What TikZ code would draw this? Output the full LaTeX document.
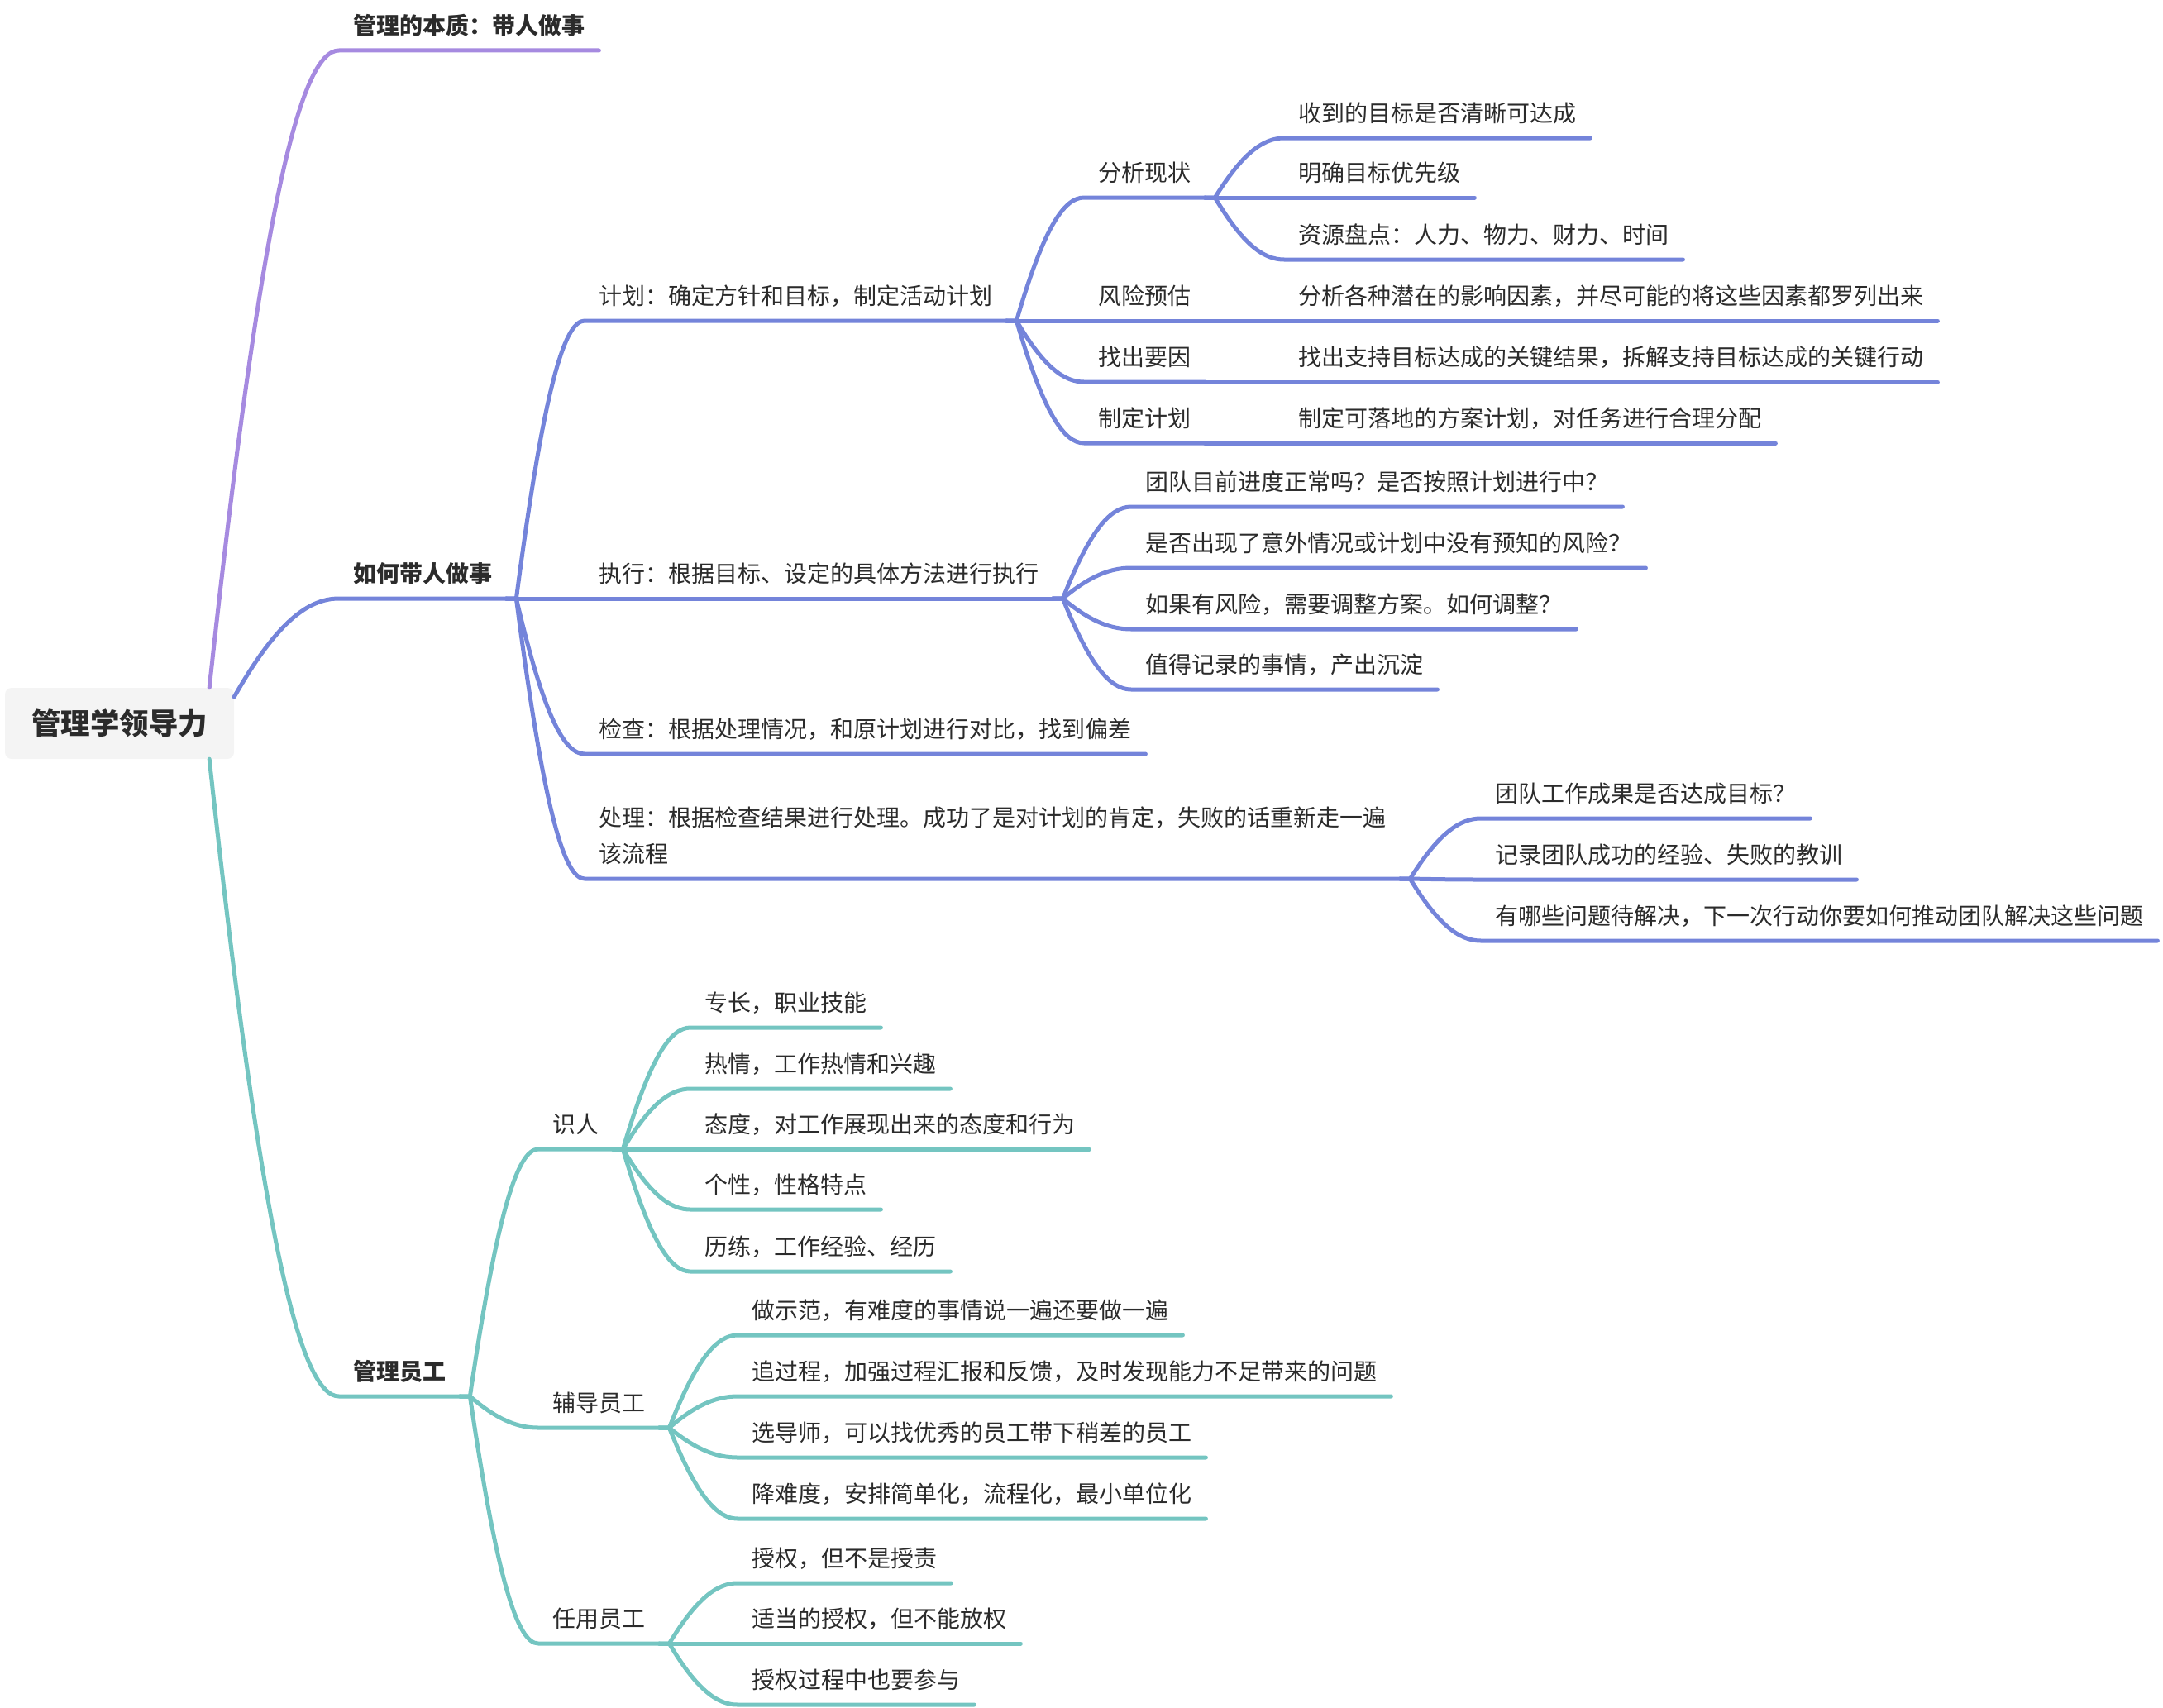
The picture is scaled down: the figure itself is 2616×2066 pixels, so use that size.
\documentclass[tikz,border=0pt]{standalone}
\usepackage{fontspec}
\setmainfont{Noto Sans CJK SC}
\usetikzlibrary{calc}
\definecolor{purplebranch}{HTML}{A68AE0}
\definecolor{bluebranch}{HTML}{7484DA}
\definecolor{tealbranch}{HTML}{74C5C1}
\definecolor{rootfill}{HTML}{F4F4F4}
\definecolor{topictext}{HTML}{2B2B2B}
\tikzstyle{central} = [rectangle, rounded corners=8pt, minimum width=277pt, minimum height=86pt, fill=rootfill, text=topictext, font=\fontsize{35.5}{40}\selectfont\bfseries]
\tikzstyle{topic} = [anchor=south west, inner xsep=17pt, inner ysep=0pt, text depth=19pt, text=topictext, font=\fontsize{28}{44.5}\selectfont]
\tikzstyle{maintopic} = [topic, font=\fontsize{28}{44.5}\selectfont\bfseries]
\tikzstyle{purpleline} = [line width=5pt, line cap=round, line join=round, draw=purplebranch]
\tikzstyle{blueline} = [line width=5pt, line cap=round, line join=round, draw=bluebranch]
\tikzstyle{tealline} = [line width=5pt, line cap=round, line join=round, draw=tealbranch]
\tikzset{branch/.style={to path={let \p1=(\tikztostart), \p2=(\tikztotarget) in
  -- ({\x1+#1},{\y1})
  .. controls ({\x1+#1+0.4*(\x2-\x1-#1)},{\y1+0.75*(\y2-\y1)}) and ({\x2-0.3*(\x2-\x1-#1)},{\y2}) .. (\tikztotarget)}},
  branch/.default=12pt}

\begin{document}
\begin{tikzpicture}[x=1pt, y=-1pt]
\useasboundingbox (0,0) rectangle (2616,2066);

\node (root) [central] at (144.5,875) {管理学领导力};
\node (essence) [maintopic] at (410,61) {管理的本质：带人做事};
\node (lead) [maintopic] at (410,724) {如何带人做事};
\node (staff) [maintopic] at (410,1689) {管理员工};

\node (plan) [topic] at (707,388) {计划：确定方针和目标，制定活动计划};
\node (do) [topic] at (707,724) {执行：根据目标、设定的具体方法进行执行};
\node (check) [topic] at (707,912) {检查：根据处理情况，和原计划进行对比，找到偏差};
\node (act) [topic, align=left] at (707,1063) {处理：根据检查结果进行处理。成功了是对计划的肯定，失败的话重新走一遍\\该流程};

\node (analyse) [topic] at (1311,239) {分析现状};
\node (risk) [topic] at (1311,388) {风险预估};
\node (keys) [topic] at (1311,462) {找出要因};
\node (schedule) [topic] at (1311,536) {制定计划};

\node (goal) [topic] at (1553,167) {收到的目标是否清晰可达成};
\node (priority) [topic] at (1553,239) {明确目标优先级};
\node (resource) [topic] at (1553,314) {资源盘点：人力、物力、财力、时间};
\node (factors) [topic] at (1553,388) {分析各种潜在的影响因素，并尽可能的将这些因素都罗列出来};
\node (results) [topic] at (1553,462) {找出支持目标达成的关键结果，拆解支持目标达成的关键行动};
\node (assign) [topic] at (1553,536) {制定可落地的方案计划，对任务进行合理分配};

\node (progress) [topic] at (1368,613) {团队目前进度正常吗？是否按照计划进行中？};
\node (surprise) [topic] at (1368,687) {是否出现了意外情况或计划中没有预知的风险？};
\node (adjust) [topic] at (1368,761) {如果有风险，需要调整方案。如何调整？};
\node (record) [topic] at (1368,834) {值得记录的事情，产出沉淀};

\node (reached) [topic] at (1791,990) {团队工作成果是否达成目标？};
\node (lessons) [topic] at (1791,1064) {记录团队成功的经验、失败的教训};
\node (issues) [topic] at (1791,1138) {有哪些问题待解决，下一次行动你要如何推动团队解决这些问题};

\node (know) [topic] at (651,1390) {识人};
\node (coach) [topic] at (651,1727) {辅导员工};
\node (employ) [topic] at (651,1988) {任用员工};

\node (skill) [topic] at (835,1243) {专长，职业技能};
\node (passion) [topic] at (835,1317) {热情，工作热情和兴趣};
\node (attitude) [topic] at (835,1390) {态度，对工作展现出来的态度和行为};
\node (nature) [topic] at (835,1463) {个性，性格特点};
\node (history) [topic] at (835,1538) {历练，工作经验、经历};

\node (demo) [topic] at (892,1615) {做示范，有难度的事情说一遍还要做一遍};
\node (follow) [topic] at (892,1689) {追过程，加强过程汇报和反馈，及时发现能力不足带来的问题};
\node (mentor) [topic] at (892,1763) {选导师，可以找优秀的员工带下稍差的员工};
\node (simplify) [topic] at (892,1837) {降难度，安排简单化，流程化，最小单位化};

\node (delegate) [topic] at (892,1915) {授权，但不是授责};
\node (proper) [topic] at (892,1988) {适当的授权，但不能放权};
\node (involve) [topic] at (892,2062) {授权过程中也要参与};

% main branches
\draw [purpleline] ([xshift=-30pt]root.north east) to [branch=0pt] (essence.south west) -- (essence.south east);
\draw [blueline] ([yshift=32pt]root.east) to [branch=0pt] (lead.south west) -- (lead.south east);
\draw [tealline] ([xshift=-30pt]root.south east) to [branch=0pt] (staff.south west) -- (staff.south east);

% how to lead
\draw [blueline] (lead.south east) to [branch] (plan.south west) -- (plan.south east);
\draw [blueline] (lead.south east) to [branch] (do.south west) -- (do.south east);
\draw [blueline] (lead.south east) to [branch] (check.south west) -- (check.south east);
\draw [blueline] (lead.south east) to [branch] (act.south west) -- (act.south east);

\draw [blueline] (plan.south east) to [branch] (analyse.south west) -- (analyse.south east);
\draw [blueline] (plan.south east) to [branch] (risk.south west) -- (risk.south east);
\draw [blueline] (plan.south east) to [branch] (keys.south west) -- (keys.south east);
\draw [blueline] (plan.south east) to [branch] (schedule.south west) -- (schedule.south east);

\draw [blueline] (analyse.south east) to [branch] (goal.south west) -- (goal.south east);
\draw [blueline] (analyse.south east) to [branch] (priority.south west) -- (priority.south east);
\draw [blueline] (analyse.south east) to [branch] (resource.south west) -- (resource.south east);
\draw [blueline] (risk.south east) to [branch] (factors.south west) -- (factors.south east);
\draw [blueline] (keys.south east) to [branch] (results.south west) -- (results.south east);
\draw [blueline] (schedule.south east) to [branch] (assign.south west) -- (assign.south east);

\draw [blueline] (do.south east) to [branch] (progress.south west) -- (progress.south east);
\draw [blueline] (do.south east) to [branch] (surprise.south west) -- (surprise.south east);
\draw [blueline] (do.south east) to [branch] (adjust.south west) -- (adjust.south east);
\draw [blueline] (do.south east) to [branch] (record.south west) -- (record.south east);

\draw [blueline] (act.south east) to [branch] (reached.south west) -- (reached.south east);
\draw [blueline] (act.south east) to [branch] (lessons.south west) -- (lessons.south east);
\draw [blueline] (act.south east) to [branch] (issues.south west) -- (issues.south east);

% managing staff
\draw [tealline] (staff.south east) to [branch] (know.south west) -- (know.south east);
\draw [tealline] (staff.south east) to [branch] (coach.south west) -- (coach.south east);
\draw [tealline] (staff.south east) to [branch] (employ.south west) -- (employ.south east);

\draw [tealline] (know.south east) to [branch] (skill.south west) -- (skill.south east);
\draw [tealline] (know.south east) to [branch] (passion.south west) -- (passion.south east);
\draw [tealline] (know.south east) to [branch] (attitude.south west) -- (attitude.south east);
\draw [tealline] (know.south east) to [branch] (nature.south west) -- (nature.south east);
\draw [tealline] (know.south east) to [branch] (history.south west) -- (history.south east);

\draw [tealline] (coach.south east) to [branch] (demo.south west) -- (demo.south east);
\draw [tealline] (coach.south east) to [branch] (follow.south west) -- (follow.south east);
\draw [tealline] (coach.south east) to [branch] (mentor.south west) -- (mentor.south east);
\draw [tealline] (coach.south east) to [branch] (simplify.south west) -- (simplify.south east);

\draw [tealline] (employ.south east) to [branch] (delegate.south west) -- (delegate.south east);
\draw [tealline] (employ.south east) to [branch] (proper.south west) -- (proper.south east);
\draw [tealline] (employ.south east) to [branch] (involve.south west) -- (involve.south east);

\end{tikzpicture}
\end{document}
